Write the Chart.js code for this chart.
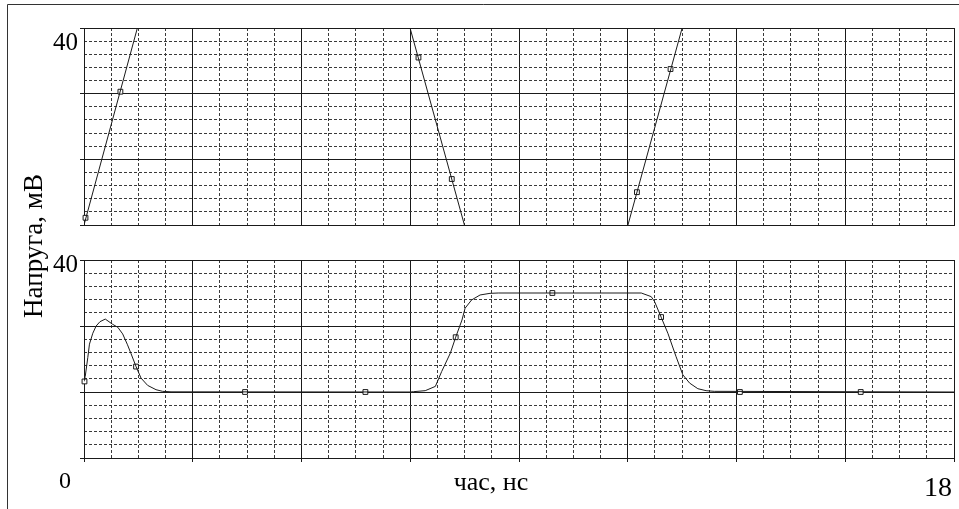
<!DOCTYPE html>
<html><head><meta charset="utf-8">
<script src="https://cdn.jsdelivr.net/npm/chart.js@4"></script>
<style>
html,body{margin:0;padding:0;background:#fff;}
#wrap{position:relative;width:959px;height:509px;overflow:hidden;background:#fff;}
#wrap canvas{position:absolute;left:0;top:0;}
</style></head><body>
<div id="wrap"><canvas id="cTop" width="959" height="509"></canvas><canvas id="cBot" width="959" height="509"></canvas></div>
<script>
// ---- axis ranges and labels ----
const X_MIN = 0, X_MAX = 18;
const Y_MIN = -20, Y_MAX = 40;
const X_MAJOR_STEP = 2.25, X_MINOR_STEP = 0.5625;
const Y_MAJOR_STEP = 20, Y_MINOR_STEP = 4;
const Y_TOP_LABEL = '40';
const X_MIN_LABEL = '0';
const X_MAX_LABEL = '18';
const X_TITLE = 'час, нс';
const Y_TITLE = 'Напруга, мВ';

// ---- top panel: line (clipped ramps) and markers ----
const topLineT = [0, 1.104, 1.2, 6.746, 7.871, 9.5, 11.254, 12.375];
const topLineV = [-20, 40, null, 40, -20, null, -20, 40];
const topMarkT = [0.031, 0.753, 6.92, 7.609, 11.44, 12.135];
const topMarkV = [-17.8, 20.6, 31.0, -6.0, -10.0, 27.5];

// ---- bottom panel: line and markers ----
const botLineT = [0, 0.025, 0.079, 0.113, 0.182, 0.251, 0.33, 0.44, 0.594, 0.70, 0.80, 0.90, 0.974, 1.077, 1.18, 1.317, 1.49, 1.626, 1.80,
  6.75, 6.82, 7.06, 7.27, 7.40, 7.58, 7.69, 7.82, 7.885, 8.02, 8.195, 8.40, 8.57,
  11.53, 11.735, 11.805, 11.94, 12.08, 12.25, 12.39, 12.53, 12.70, 12.87, 13.04, 18];
const botLineV = [3.2, 4.7, 10.5, 14.5, 17.8, 20.0, 21.3, 22.1, 20.5, 19.6, 17.6, 14.3, 11.6, 7.7, 4.2, 2.0, 0.7, 0.2, 0.05,
  0, 0.1, 0.4, 1.7, 6.2, 11.8, 16.6, 21.8, 25.4, 27.9, 29.4, 29.9, 30.0,
  30.0, 28.9, 27.4, 22.7, 17.8, 10.7, 5.2, 2.7, 1.0, 0.4, 0.2, 0];
const botMarkT = [0.01, 1.077, 3.332, 5.822, 7.69, 9.69, 11.94, 13.57, 16.07];
const botMarkV = [3.2, 7.7, 0, 0, 16.6, 30, 22.7, 0, 0];

// ---- styles ----
const MAJOR = '#1a1a1a';
const MINOR = '#3a3a3a';
const TRACE = '#1a1a1a';
const FONT = '"Liberation Serif", "Times New Roman", serif';

function tickValues(min, max, step) {
  const out = [];
  const n = Math.round((max - min) / step);
  for (let i = 0; i <= n; i++) out.push(min + i * step);
  return out;
}
function isMultiple(v, step) {
  const r = v / step;
  return Math.abs(r - Math.round(r)) < 1e-6;
}
function pts(ts, vs) { return ts.map((t, i) => ({x: t, y: vs[i]})); }

function makeScales(xTicks) {
  return {
    x: {
      type: 'linear', position: 'bottom', min: X_MIN, max: X_MAX,
      afterBuildTicks: s => { s.ticks = tickValues(X_MIN, X_MAX, X_MAJOR_STEP).map(v => ({value: v})); },
      ticks: {display: false, autoSkip: false},
      grid: {color: MAJOR, lineWidth: 1, drawTicks: xTicks, tickLength: 4, tickColor: MAJOR, tickWidth: 1},
      border: {display: true, color: MAJOR, width: 1}
    },
    xm: {
      type: 'linear', position: 'bottom', min: X_MIN, max: X_MAX,
      afterBuildTicks: s => { s.ticks = tickValues(X_MIN, X_MAX, X_MINOR_STEP).map(v => ({value: v})); },
      ticks: {display: false, autoSkip: false},
      grid: {color: c => (c.tick && isMultiple(c.tick.value - X_MIN, X_MAJOR_STEP)) ? 'rgba(0,0,0,0)' : MINOR, lineWidth: 1, drawTicks: false},
      border: {display: false, dash: [3, 2]}
    },
    y: {
      type: 'linear', position: 'left', min: Y_MIN, max: Y_MAX,
      afterBuildTicks: s => { s.ticks = tickValues(Y_MIN, Y_MAX, Y_MAJOR_STEP).map(v => ({value: v})); },
      ticks: {display: false, autoSkip: false},
      grid: {color: MAJOR, lineWidth: 1, drawTicks: true, tickLength: 4, tickColor: MAJOR, tickWidth: 1},
      border: {display: true, color: MAJOR, width: 1}
    },
    ym: {
      type: 'linear', position: 'left', min: Y_MIN, max: Y_MAX,
      afterBuildTicks: s => { s.ticks = tickValues(Y_MIN, Y_MAX, Y_MINOR_STEP).map(v => ({value: v})); },
      ticks: {display: false, autoSkip: false},
      grid: {color: c => (c.tick && isMultiple(c.tick.value - Y_MIN, Y_MAJOR_STEP)) ? 'rgba(0,0,0,0)' : MINOR, lineWidth: 1, drawTicks: false},
      border: {display: false, dash: [3, 2]}
    }
  };
}

function datasets(lt, lv, mt, mv) {
  return [
    {data: pts(lt, lv), borderColor: TRACE, borderWidth: 1, pointRadius: 0, tension: 0, spanGaps: false, xAxisID: 'x', yAxisID: 'y'},
    {data: pts(mt, mv), showLine: false, pointStyle: 'rect', pointRadius: 3.4, pointBorderWidth: 1,
      pointBorderColor: TRACE, pointBackgroundColor: '#ffffff', clip: false, xAxisID: 'x', yAxisID: 'y'}
  ];
}

const commonPlugins = {legend: {display: false}, tooltip: {enabled: false}, title: {display: false}};

new Chart(document.getElementById('cTop'), {
  type: 'line',
  data: {datasets: datasets(topLineT, topLineV, topMarkT, topMarkV)},
  options: {
    responsive: false, animation: false, devicePixelRatio: 1,
    layout: {padding: {left: 80, right: 2, top: 28, bottom: 284}},
    scales: makeScales(false),
    plugins: commonPlugins
  }
});

const textPlugin = {
  id: 'texts',
  afterDraw(chart) {
    const ctx = chart.ctx;
    ctx.save();
    // outer frame (top and left)
    ctx.strokeStyle = '#333';
    ctx.lineWidth = 1;
    ctx.beginPath();
    ctx.moveTo(7.5, 509); ctx.lineTo(7.5, 4.5); ctx.lineTo(959, 4.5);
    ctx.stroke();
    ctx.fillStyle = '#000';
    ctx.textBaseline = 'alphabetic';
    ctx.font = '25px ' + FONT;
    ctx.textAlign = 'right';
    ctx.fillText(Y_TOP_LABEL, 78, 50);
    ctx.fillText(Y_TOP_LABEL, 78, 272);
    ctx.font = '24px ' + FONT;
    ctx.textAlign = 'center';
    ctx.fillText(X_MIN_LABEL, 65, 488);
    ctx.font = '28px ' + FONT;
    ctx.textAlign = 'right';
    ctx.fillText(X_MAX_LABEL, 952, 495.5);
    ctx.font = '26px ' + FONT;
    ctx.textAlign = 'center';
    ctx.fillText(X_TITLE, 491, 490);
    ctx.translate(41.5, 246);
    ctx.rotate(-Math.PI / 2);
    ctx.font = '27px ' + FONT;
    ctx.textAlign = 'center';
    ctx.fillText(Y_TITLE, 0, 0);
    ctx.restore();
  }
};

new Chart(document.getElementById('cBot'), {
  type: 'line',
  data: {datasets: datasets(botLineT, botLineV, botMarkT, botMarkV)},
  options: {
    responsive: false, animation: false, devicePixelRatio: 1,
    layout: {padding: {left: 80, right: 2, top: 260, bottom: 47}},
    scales: makeScales(true),
    plugins: commonPlugins
  },
  plugins: [textPlugin]
});
</script>
</body></html>
